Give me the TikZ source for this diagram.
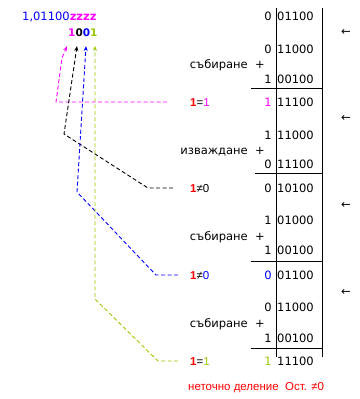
\documentclass[tikz,border=0pt]{standalone}
\usepackage{fontspec}
\setmainfont{DejaVu Sans}
\newfontfamily\lib{Liberation Sans}
\usetikzlibrary{arrows.meta}
\definecolor{mag}{RGB}{255,0,255}
\definecolor{blu}{RGB}{0,0,255}
\definecolor{grn}{RGB}{153,204,0}
\definecolor{rd}{RGB}{255,0,0}
\begin{document}
\begin{tikzpicture}[x=1pt,y=-1pt,
  every node/.style={inner sep=0pt,font=\fontsize{11.5}{13}\selectfont},
  num/.style={anchor=base west},
  dig/.style={anchor=base east},
  oplab/.style={anchor=base east},
  plus/.style={anchor=base},
  eqlab/.style={anchor=base west,font=\fontsize{11.5}{13}\selectfont\lib},
  shiftarrow/.style={anchor=center},
  rule/.style={line width=0.9pt},
  conn/.style={dash pattern=on 4pt off 2.5pt, line width=0.9pt, -{Stealth[length=5pt,width=4pt]}},
]
\useasboundingbox (0,0) rectangle (359,399);

% top quotient
\node[anchor=base west] (top) at (22,20) {\textcolor{blu}{1,01100}\textbf{\textcolor{mag}{zzzz}}};
\node[anchor=base west,font=\fontsize{10.5}{12}\selectfont\bfseries] (q) at (68,36) {\textcolor{mag}{1}\textcolor{black}{0}\textcolor{blu}{0}\textcolor{grn}{1}};

% table frame
\draw[rule] (276,8) -- (276,357);
\draw[rule] (322,8) -- (322,357);
\draw[rule] (251,88) -- (323,88);
\draw[rule] (255,173) -- (323,173);
\draw[rule] (251,261) -- (323,261);
\draw[rule] (251,348) -- (323,348);

% block 1
\node[dig] (l1) at (272,20) {0}; \node[num] (r1) at (277,20) {01100};
\node[dig] (l2) at (272,53) {0}; \node[num] (r2) at (277,53) {11000};
\node[oplab] (op1) at (248,68) {събиране}; \node[plus] (p1) at (260,68) {+};
\node[dig] (l3) at (272,83) {1}; \node[num] (r3) at (277,83) {00100};
\node[eqlab] (e1) at (190,106) {\textbf{\textcolor{rd}{1}}=\textcolor{mag}{1}};
\node[dig] (l4) at (272,106) {\textcolor{mag}{1}}; \node[num] (r4) at (277,106) {11100};

% block 2
\node[dig] (l5) at (272,139) {1}; \node[num] (r5) at (277,139) {11000};
\node[oplab] (op2) at (248,154) {изваждане}; \node[plus] (p2) at (260,154) {+};
\node[dig] (l6) at (272,168) {0}; \node[num] (r6) at (277,168) {11100};
\node[eqlab] (e2) at (190,192) {\textbf{\textcolor{rd}{1}}≠0};
\node[dig] (l7) at (272,192) {0}; \node[num] (r7) at (277,192) {10100};

% block 3
\node[dig] (l8) at (272,224) {1}; \node[num] (r8) at (277,224) {01000};
\node[oplab] (op3) at (248,240) {събиране}; \node[plus] (p3) at (260,240) {+};
\node[dig] (l9) at (272,254) {1}; \node[num] (r9) at (277,254) {00100};
\node[eqlab] (e3) at (190,279) {\textbf{\textcolor{rd}{1}}≠\textcolor{blu}{0}};
\node[dig] (l10) at (272,279) {\textcolor{blu}{0}}; \node[num] (r10) at (277,279) {01100};

% block 4
\node[dig] (l11) at (272,311) {0}; \node[num] (r11) at (277,311) {11000};
\node[oplab] (op4) at (248,327) {събиране}; \node[plus] (p4) at (260,327) {+};
\node[dig] (l12) at (272,342) {1}; \node[num] (r12) at (277,342) {00100};
\node[eqlab] (e4) at (190,365) {\textbf{\textcolor{rd}{1}}=\textcolor{grn}{1}};
\node[dig] (l13) at (272,365) {\textcolor{grn}{1}}; \node[num] (r13) at (277,365) {11100};

% remark
\node[eqlab,text=rd] (note) at (188,390) {неточно деление\ \ Ост. ≠0};

% shift arrows
\node[shiftarrow] (s1) at (346,32) {←};
\node[shiftarrow] (s2) at (346,118) {←};
\node[shiftarrow] (s3) at (346,205) {←};
\node[shiftarrow] (s4) at (346,292) {←};

% connector coordinates
\coordinate (mA) at (56,0);   \coordinate (mB) at (62,58);  \coordinate (mT) at (67,46);
\coordinate (kA) at (148,0);  \coordinate (kB) at (64,134); \coordinate (kT) at (77,46);
\coordinate (bA) at (156,0);  \coordinate (bB) at (77,192); \coordinate (bT) at (86,46);
\coordinate (gA) at (158,0);  \coordinate (gB) at (95,299); \coordinate (gT) at (95,46);

\draw[conn,color=mag] ([xshift=-23pt]e1.west) -- (e1.west -| mA) -- (mB) -- (mT);
\draw[conn,color=black] ([xshift=-17pt]e2.west) -- (e2.west -| kA) -- (kB) -- (kT);
\draw[conn,color=blu] ([xshift=-12pt]e3.west) -- (e3.west -| bA) -- (bB) -- (bT);
\draw[conn,color=grn] ([xshift=-12pt]e4.west) -- (e4.west -| gA) -- (gB) -- (gT);
\end{tikzpicture}
\end{document}
